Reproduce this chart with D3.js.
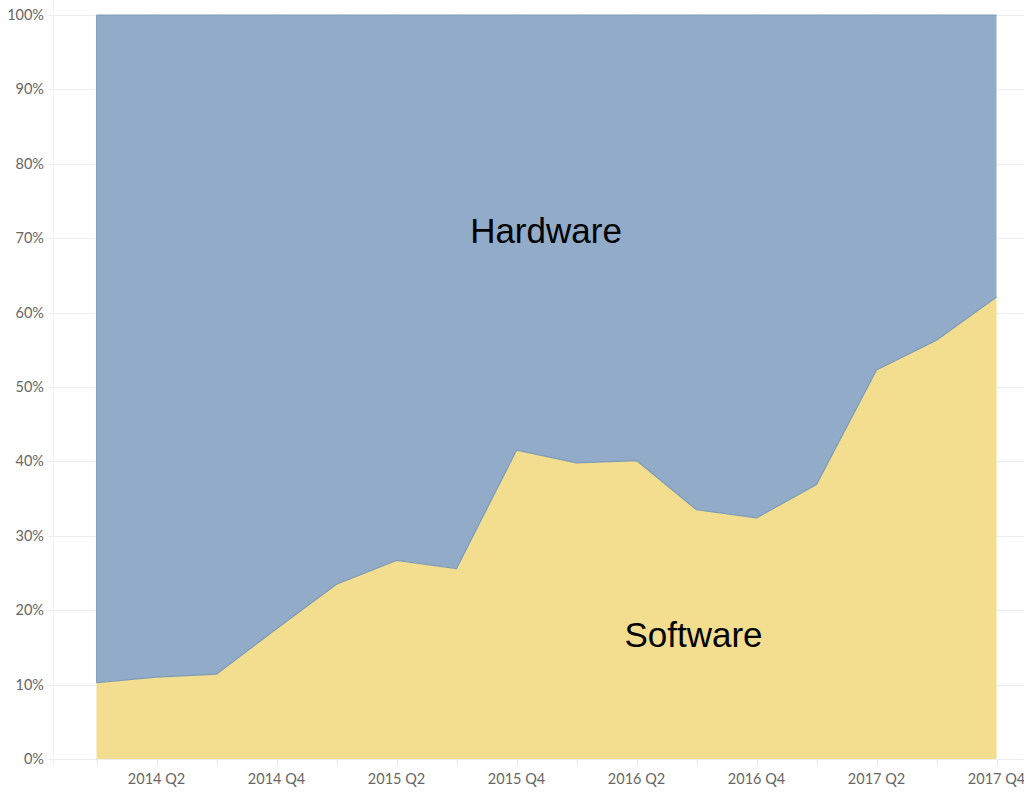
<!DOCTYPE html>
<html><head><meta charset="utf-8">
<script src="https://cdn.jsdelivr.net/npm/d3@7/dist/d3.min.js"></script>
<style>
html,body{margin:0;padding:0;background:#fff;}
svg{display:block;}
</style></head>
<body><svg id="c" width="1024" height="796"></svg>
<script>
const quarters = ["2014 Q1","2014 Q2","2014 Q3","2014 Q4","2015 Q1","2015 Q2","2015 Q3","2015 Q4","2016 Q1","2016 Q2","2016 Q3","2016 Q4","2017 Q1","2017 Q2","2017 Q3","2017 Q4"];
const software = [10.25, 11.0, 11.4, 17.5, 23.5, 26.7, 25.6, 41.5, 39.8, 40.1, 33.5, 32.4, 36.9, 52.3, 56.3, 62.1];
const hardware = software.map(v => 100 - v);
const xTickLabels = ["2014 Q2","2014 Q4","2015 Q2","2015 Q4","2016 Q2","2016 Q4","2017 Q2","2017 Q4"];
const yTicks = [0,10,20,30,40,50,60,70,80,90,100];

const svg = d3.select("#c");
const x = d3.scalePoint().domain(quarters).range([96.5, 996.5]);
const y = d3.scaleLinear().domain([0,100]).range([759, 15]);

// gridlines
svg.append("g").selectAll("line").data(yTicks).join("line")
  .attr("x1", 48).attr("x2", 1024)
  .attr("y1", d => Math.round(y(d))+0.5).attr("y2", d => Math.round(y(d))+0.5)
  .attr("stroke", "#ececec").attr("stroke-width", 1);

// y axis line
svg.append("line").attr("x1", 53.5).attr("x2", 53.5).attr("y1", 0).attr("y2", 765)
  .attr("stroke", "#f0f0f0");

const data = quarters.map((q,i) => ({q, s: software[i], h: hardware[i]}));

const areaTop = d3.area().x(d => x(d.q)).y0(d => y(d.s)).y1(d => y(d.s + d.h));
const areaBot = d3.area().x(d => x(d.q)).y0(y(0)).y1(d => y(d.s));

svg.append("path").datum(data).attr("d", areaTop).attr("fill", "#91abc9");
svg.append("path").datum(data).attr("d", areaBot).attr("fill", "#f3dd8e");

// top edge of hardware area
svg.append("path").datum(data)
  .attr("d", d3.line().x(d => x(d.q)).y(d => y(d.s + d.h)))
  .attr("fill", "none").attr("stroke", "#7d9cbb").attr("stroke-width", 1);
// boundary line
svg.append("path").datum(data)
  .attr("d", d3.line().x(d => x(d.q)).y(d => y(d.s)))
  .attr("fill", "none").attr("stroke", "#7d9cb6").attr("stroke-width", 1.2);
// left edge
svg.append("line").attr("x1", x(quarters[0])).attr("x2", x(quarters[0]))
  .attr("y1", y(100)).attr("y2", y(software[0]))
  .attr("stroke", "#85a2be").attr("stroke-width", 1);

// x ticks
svg.append("g").selectAll("line").data(quarters).join("line")
  .attr("x1", d => Math.round(x(d))+0.5).attr("x2", d => Math.round(x(d))+0.5)
  .attr("y1", 760).attr("y2", 766).attr("stroke", "#ececec");

// y labels
svg.append("g").selectAll("text").data(yTicks).join("text")
  .attr("x", 44).attr("y", d => y(d)).attr("dy", "0.35em")
  .attr("text-anchor", "end")
  .attr("font-family", "Lato, 'Open Sans', sans-serif").attr("font-size", 14.5)
  .attr("fill", "#666").text(d => d + "%");

// x labels
svg.append("g").selectAll("text").data(xTickLabels).join("text")
  .attr("x", d => x(d)).attr("y", 784)
  .attr("text-anchor", "middle")
  .attr("font-family", "Lato, 'Open Sans', sans-serif").attr("font-size", 14.5)
  .attr("fill", "#666").text(d => d);

// series labels
svg.append("text").attr("x", 546).attr("y", 243).attr("text-anchor", "middle")
  .attr("font-family", "'Liberation Sans', Arial, sans-serif").attr("font-size", 35)
  .attr("fill", "#000").text("Hardware");
svg.append("text").attr("x", 693.5).attr("y", 647).attr("text-anchor", "middle")
  .attr("font-family", "'Liberation Sans', Arial, sans-serif").attr("font-size", 35)
  .attr("fill", "#000").text("Software");
</script></body></html>
